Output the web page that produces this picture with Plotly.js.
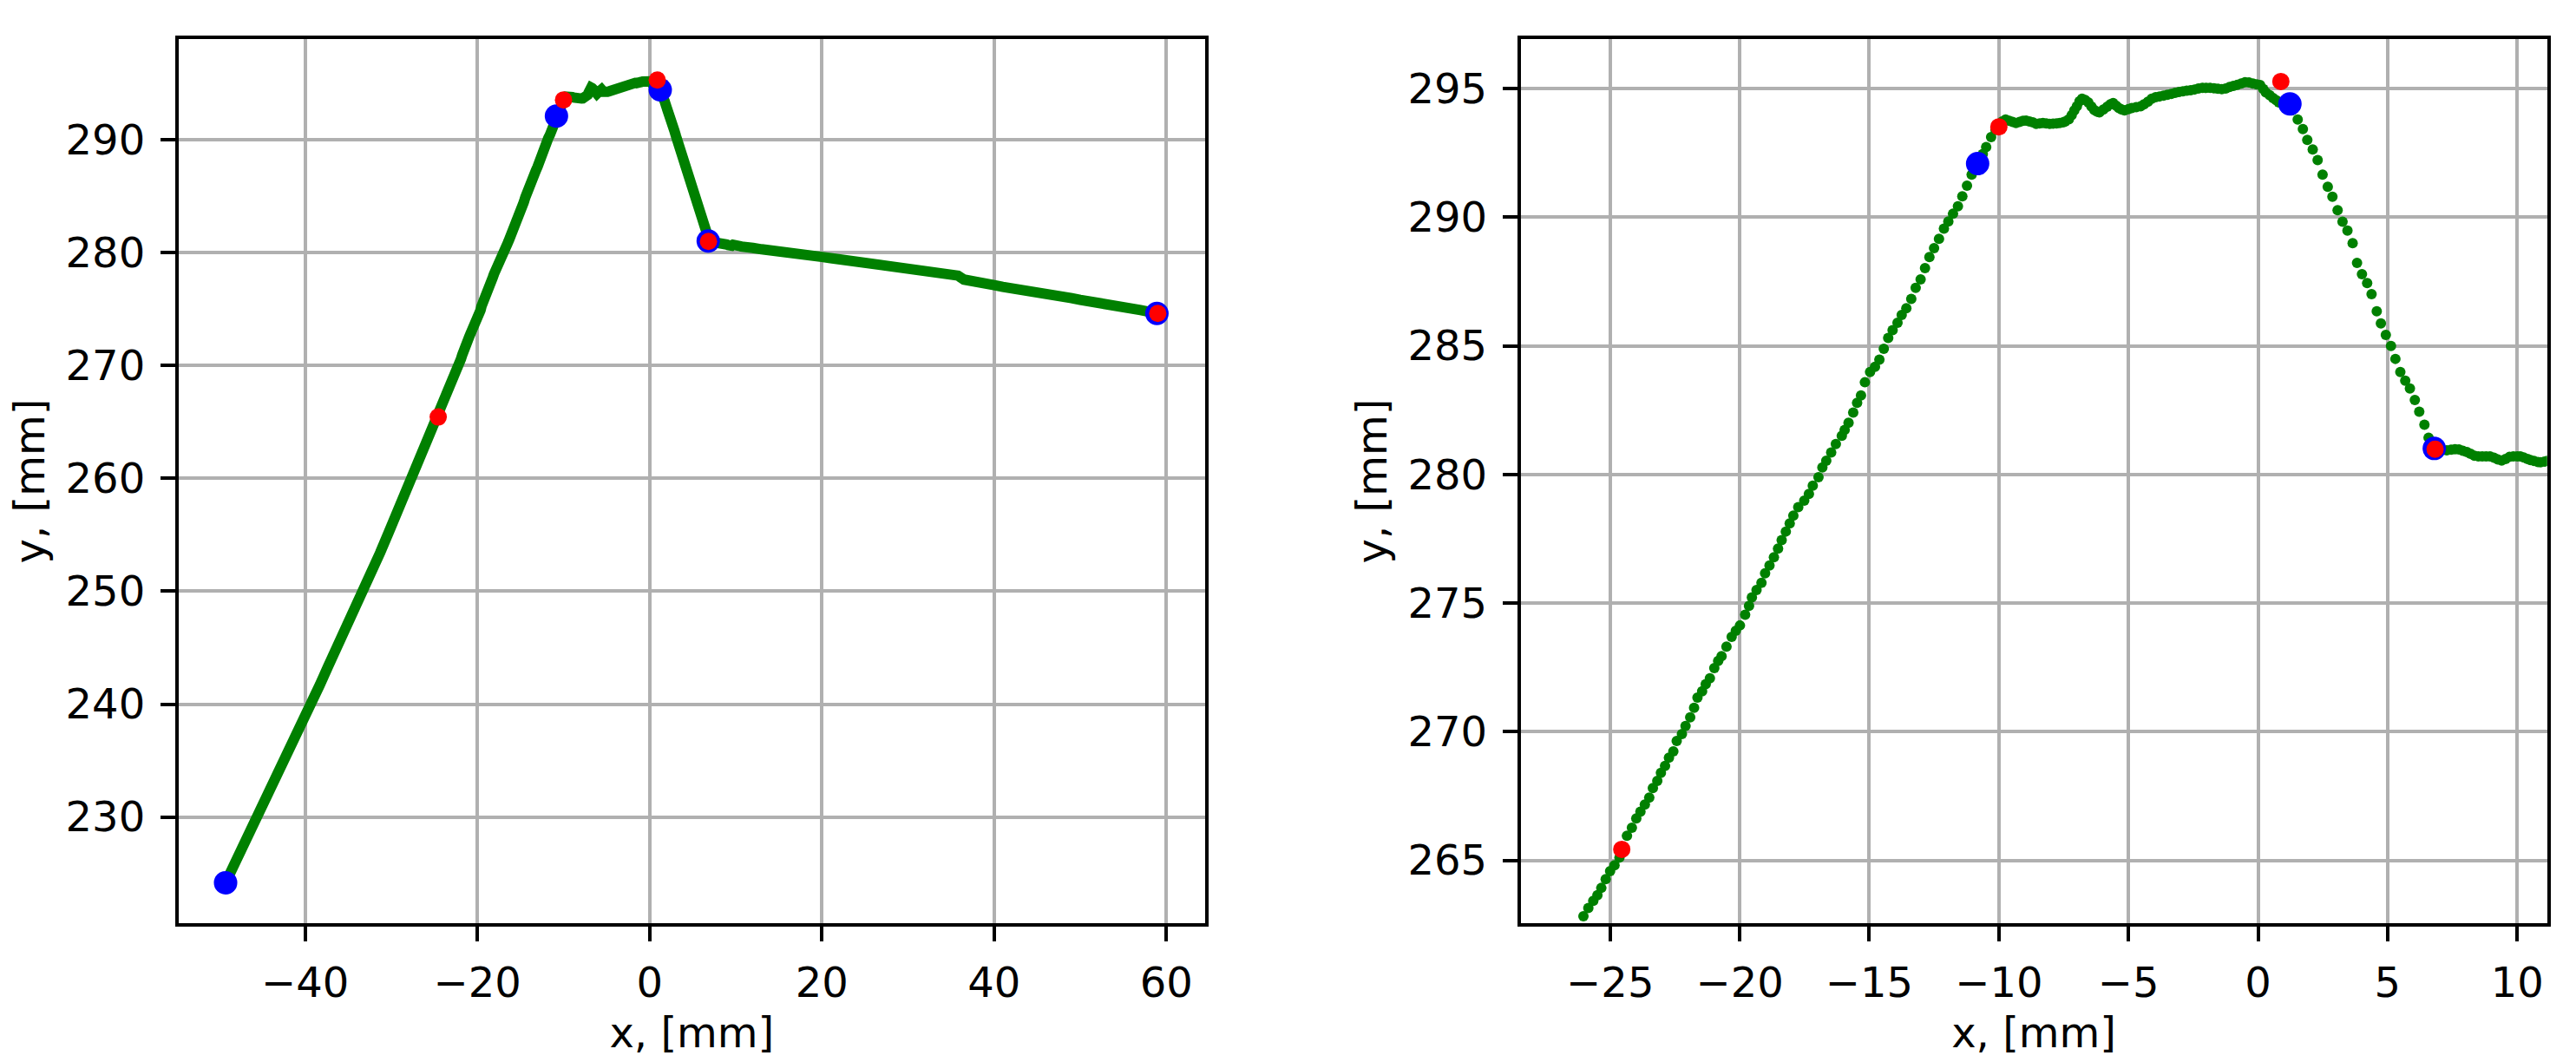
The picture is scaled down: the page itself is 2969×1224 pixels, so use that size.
<!DOCTYPE html>
<html><head><meta charset="utf-8">
<script src="https://cdn.plot.ly/plotly-3.0.1.min.js"></script>
<style>html,body{margin:0;padding:0;background:#fff}</style>
</head><body>
<div id="chart" style="width:2969px;height:1224px"></div>
<script>
// Measured trajectory (x, y in mm), in path order
const trajX = [
-49.24,-48.4,-47.5,-46.4,-45.29,-44.3,-43.3,-42.3,-41.3,-40.3,-39.32,-38.3,-37.3,-36.3,-35.3,-34.3,-33.23,-32.3,-31.3,-30.3,-29.3,-28.3,-27.38,-26.6,
-26.03,-25.84,-25.65,-25.49,-25.34,-25.17,-25.00,-24.83,-24.64,-24.50,-24.35,-24.16,-23.99,-23.83,-23.66,-23.49,-23.35,-23.18,-23.04,-22.88,-22.73,-22.56,-22.43,-22.23,-22.09,-21.91,-21.76,-21.63,-21.45,-21.31,-21.15,-20.98,-20.83,-20.70,-20.51,-20.31,-20.15,-19.99,-19.79,-19.64,-19.53,-19.35,-19.16,-19.02,-18.85,-18.68,-18.52,-18.38,-18.22,-18.07,
-17.93,-17.74,-17.51,-17.33,-17.18,-16.96,-16.81,-16.66,-16.47,-16.29,-16.06,-15.95,-15.80,-15.62,-15.47,-15.32,
-15.17,-14.97,-14.78,-14.61,-14.44,-14.27,-14.10,-13.91,-13.75,-13.57,-13.38,-13.21,-13.02,-12.85,-12.68,-12.50,-12.31,-12.12,-11.95,-11.77,-11.58,-11.41,-11.23,-11.05,-10.90,-10.75,-10.62,-10.49,-10.30,-10.13,
-10.0,-9.87,-9.74,-9.6,-9.47,-9.34,-9.2,-9.07,-8.95,-8.82,-8.69,-8.56,-8.43,-8.3,-8.17,-8.04,-7.91,-7.78,-7.65,-7.52,-7.44,-7.3,-7.19,-7.09,-6.99,-6.89,-6.79,-6.67,-6.55,-6.43,-6.32,-6.22,-6.12,-5.97,-5.82,-5.7,-5.59,-5.48,-5.37,-5.26,-5.15,-5.0,-4.87,-4.7,-4.53,-4.4,-4.25,-4.1,-3.95,-3.8,-3.65,-3.5,-3.35,-3.2,-3.05,-2.9,-2.75,-2.6,-2.45,-2.3,-2.15,-2.0,-1.85,-1.7,-1.55,-1.4,-1.25,-1.1,-0.95,-0.8,-0.65,-0.5,-0.35,-0.2,-0.05,0.08,0.2,0.3,0.45,0.58,0.7,0.8,0.95,1.1,1.3,
1.53,1.73,1.90,2.11,2.30,2.49,2.69,2.87,3.07,3.26,3.45,3.65,3.82,4.01,4.21,4.38,4.58,4.74,4.93,5.13,5.30,5.49,5.68,5.86,6.05,6.22,6.42,6.58,6.80,
6.95,7.1,7.28,7.45,7.6,7.75,7.9,8.06,8.2,8.35,8.5,8.65,8.8,8.95,9.1,9.25,9.4,9.55,9.7,9.85,10.0,10.12,10.25,10.4,10.51,10.65,10.8,10.9,11.05,11.18,
11.5,12,13,14,15,16,17,18,19,20,21,22,23,24,25,26,27,28,29,30,31,32,33,34,35,35.3,35.8,36.5,37,38,39,40,41,42,43,44,45,46,47,48,49,50,51,52,53,54,55,56,57,58,58.9
];
const trajY = [
224.18,225.5,226.9,228.6,230.3,231.9,233.5,235.1,236.8,238.4,240.0,241.7,243.4,245.0,246.7,248.3,250.0,251.6,253.4,255.2,257.0,258.8,260.4,261.8,
262.83,263.15,263.43,263.65,263.93,264.27,264.58,264.81,265.11,265.50,265.96,266.27,266.63,266.89,267.17,267.44,267.81,268.09,268.40,268.67,268.99,269.24,269.64,269.91,270.22,270.56,270.93,271.33,271.57,271.85,272.08,272.47,272.75,272.94,273.31,273.69,273.92,274.13,274.55,274.89,275.22,275.51,275.79,276.16,276.46,276.78,277.12,277.45,277.78,278.10,
278.40,278.73,278.98,279.24,279.56,279.89,280.27,280.53,280.85,281.18,281.50,281.73,282.01,282.40,282.78,283.07,
283.58,283.98,284.18,284.46,284.88,285.30,285.61,285.89,286.20,286.46,286.82,287.25,287.58,288.02,288.45,288.79,289.16,289.55,289.83,290.13,290.42,290.81,291.22,291.65,291.95,292.20,292.45,292.72,293.11,293.39,
293.55,293.72,293.79,293.74,293.70,293.66,293.70,293.74,293.75,293.72,293.68,293.62,293.64,293.66,293.64,293.62,293.63,293.64,293.66,293.68,293.72,293.80,293.96,294.15,294.31,294.50,294.60,294.55,294.46,294.30,294.16,294.10,294.07,294.18,294.29,294.38,294.43,294.33,294.24,294.18,294.15,294.20,294.24,294.27,294.31,294.38,294.48,294.60,294.66,294.69,294.72,294.75,294.79,294.83,294.86,294.89,294.91,294.93,294.96,295.00,295.02,295.02,295.02,295.01,294.99,294.97,295.00,295.06,295.10,295.14,295.19,295.24,295.23,295.19,295.16,295.13,294.98,294.85,294.74,294.63,294.54,294.46,294.42,294.38,294.15,
293.79,293.42,293.00,292.63,292.22,291.65,291.18,290.79,290.27,289.82,289.48,288.99,288.22,287.78,287.44,287.01,286.34,285.87,285.42,284.99,284.49,283.98,283.64,283.34,282.89,282.44,281.93,281.43,281.01,
280.97,280.95,280.94,280.96,280.98,280.97,280.92,280.87,280.80,280.73,280.70,280.70,280.70,280.70,280.65,280.58,280.54,280.60,280.68,280.70,280.70,280.70,280.66,280.60,280.56,280.52,280.48,280.47,280.50,280.53,
280.45,280.40,280.28,280.15,280.05,279.95,279.90,279.80,279.70,279.60,279.50,279.40,279.30,279.20,279.10,278.95,278.85,278.70,278.60,278.50,278.35,278.25,278.15,278.00,277.90,278.05,277.95,277.60,277.50,277.40,277.25,277.10,276.95,276.85,276.70,276.60,276.50,276.35,276.20,276.10,275.95,275.80,275.70,275.55,275.45,275.30,275.15,275.05,274.90,274.75,274.60
];

// Segment end points (blue) and detected corners (red)
const blueX = [-49.24, -10.82, 1.23, 6.80, 58.9];
const blueY = [224.18, 292.08, 294.40, 281.01, 274.6];
const redX = [-24.55, -10.0, 0.88, 6.83, 59.0];
const redY = [265.43, 293.51, 295.27, 280.98, 274.6];

// Tick values
const leftXTicks = [-40, -20, 0, 20, 40, 60];
const leftYTicks = [230, 240, 250, 260, 270, 280, 290];
const rightXTicks = [-25, -20, -15, -10, -5, 0, 5, 10];
const rightYTicks = [265, 270, 275, 280, 285, 290, 295];

const xTitle = 'x, [mm]';
const yTitle = 'y, [mm]';

const FONT = 'DejaVu Sans, Liberation Sans, sans-serif';
const GREEN = '#008000';

const traces = [
  {x: trajX, y: trajY, xaxis: 'x', yaxis: 'y', mode: 'lines', type: 'scatter',
   line: {color: GREEN, width: 12}, hoverinfo: 'skip'},
  {x: trajX, y: trajY, xaxis: 'x2', yaxis: 'y2', mode: 'markers', type: 'scatter',
   marker: {color: GREEN, size: 12}, hoverinfo: 'skip'},
  {x: blueX, y: blueY, xaxis: 'x', yaxis: 'y', mode: 'markers', type: 'scatter',
   marker: {color: '#0000ff', size: 27}},
  {x: blueX, y: blueY, xaxis: 'x2', yaxis: 'y2', mode: 'markers', type: 'scatter',
   marker: {color: '#0000ff', size: 27}},
  {x: redX, y: redY, xaxis: 'x', yaxis: 'y', mode: 'markers', type: 'scatter',
   marker: {color: '#ff0000', size: 20}},
  {x: redX, y: redY, xaxis: 'x2', yaxis: 'y2', mode: 'markers', type: 'scatter',
   marker: {color: '#ff0000', size: 20}}
];

function axisBase(extra) {
  return Object.assign({
    showgrid: true, gridcolor: '#b0b0b0', gridwidth: 4,
    showline: true, linecolor: '#000', linewidth: 4, mirror: true,
    ticks: 'outside', ticklen: 17, tickwidth: 4, tickcolor: '#000',
    zeroline: false, tickmode: 'array',
    tickfont: {family: FONT, size: 48, color: '#000'}
  }, extra);
}

const yDomain = [1 - 1064/1224, 1 - 45/1224];

const layout = {
  width: 2969, height: 1224,
  margin: {l: 0, r: 0, t: 0, b: 0},
  paper_bgcolor: '#fff', plot_bgcolor: '#fff',
  showlegend: false,
  font: {family: FONT, size: 48, color: '#000'},
  xaxis: axisBase({domain: [205.8/2969, 1389/2969], range: [-54.7, 64.5], tickvals: leftXTicks,
    anchor: 'y', ticklabelstandoff: 6,
    title: {text: xTitle, font: {family: FONT, size: 48, color: '#000'}, standoff: 16}}),
  yaxis: axisBase({domain: yDomain, range: [220.6, 298.9], tickvals: leftYTicks,
    anchor: 'x', ticklabelstandoff: 8,
    title: {text: yTitle, font: {family: FONT, size: 48, color: '#000'}, standoff: 10}}),
  xaxis2: axisBase({domain: [1752.7/2969, 2935.6/2969], range: [-28.45, 11.15], tickvals: rightXTicks,
    anchor: 'y2', ticklabelstandoff: 6,
    title: {text: xTitle, font: {family: FONT, size: 48, color: '#000'}, standoff: 16}}),
  yaxis2: axisBase({domain: yDomain, range: [262.56, 296.92], tickvals: rightYTicks,
    anchor: 'x2', ticklabelstandoff: 8,
    title: {text: yTitle, font: {family: FONT, size: 48, color: '#000'}, standoff: 10}})
};

Plotly.newPlot('chart', traces, layout, {staticPlot: true, displayModeBar: false});
</script>
</body></html>
